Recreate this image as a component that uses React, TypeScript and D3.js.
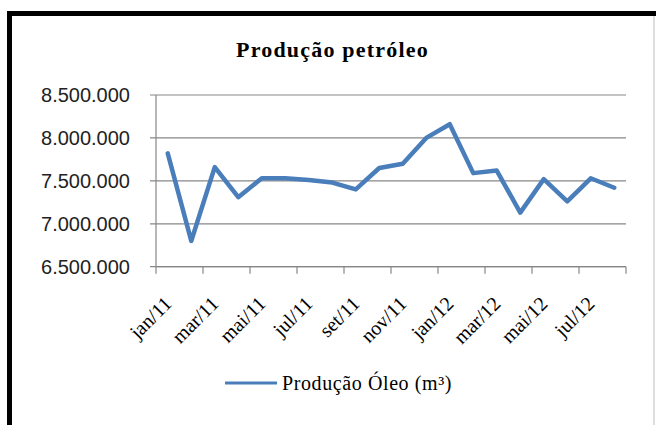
import React from "react";
import * as d3 from "d3";

const categories = [
  "jan/11", "fev/11", "mar/11", "abr/11", "mai/11", "jun/11", "jul/11", "ago/11",
  "set/11", "out/11", "nov/11", "dez/11", "jan/12", "fev/12", "mar/12", "abr/12",
  "mai/12", "jun/12", "jul/12", "ago/12",
];
const producao = [
  7820000, 6800000, 7660000, 7310000, 7530000, 7530000, 7510000, 7480000,
  7400000, 7650000, 7700000, 8000000, 8160000, 7590000, 7620000, 7130000,
  7520000, 7260000, 7530000, 7420000,
];
const yTicks = [6500000, 7000000, 7500000, 8000000, 8500000];
const title = "Produção petróleo";
const seriesName = "Produção Óleo (m³)";

const W = 656;
const H = 425;
const left = 156;
const right = 626;
const top = 95;
const bottom = 266.7;

export default function App() {
  const x = d3.scaleBand<string>().domain(categories).range([left, right]).padding(0);
  const y = d3.scaleLinear().domain([6500000, 8500000]).range([bottom, top]);
  const fmt = (v: number) => d3.format(",")(v).replace(/,/g, ".");
  const line = d3
    .line<number>()
    .x((_, i) => (x(categories[i]) as number) + x.bandwidth() / 2)
    .y((d) => y(d));
  const blue = "#4a7ebb";
  const grid = "#878787";
  const tickCats = categories.filter((_, i) => i % 2 === 0);
  const tickXs = d3.range(0, categories.length + 1, 2).map((i) => left + i * x.bandwidth());

  return (
    <svg
      width={W}
      height={H}
      style={{ position: "absolute", left: 0, top: 0, background: "#fff" }}
    >
      <rect x={0} y={0} width={W} height={H} fill="#fff" />
      {/* frame */}
      <line x1={9.5} x2={9.5} y1={11} y2={H} stroke="#000" strokeWidth={5} />
      <line x1={7} x2={W} y1={13.5} y2={13.5} stroke="#000" strokeWidth={5} />
      <line x1={654} x2={654} y1={16} y2={H} stroke="#d4d4d4" strokeWidth={1.5} />

      <text
        x={332.5}
        y={57}
        textAnchor="middle"
        fontFamily="Liberation Serif"
        fontWeight="bold"
        fontSize={22}
        letterSpacing={1.2}
        fill="#000"
      >
        {title}
      </text>

      {/* gridlines */}
      {yTicks.map((t) => (
        <g key={t}>
          <line x1={left - 6} x2={right} y1={y(t)} y2={y(t)} stroke={grid} strokeWidth={1.2} />
          <text
            x={130}
            y={y(t)}
            dy="0.35em"
            textAnchor="end"
            fontFamily="Liberation Sans"
            fontSize={20}
            fill="#222"
          >
            {fmt(t)}
          </text>
        </g>
      ))}
      {/* axes */}
      <line x1={left} x2={left} y1={top} y2={bottom} stroke={grid} strokeWidth={1.2} />
      <line x1={left} x2={right} y1={bottom} y2={bottom} stroke={grid} strokeWidth={1.2} />
      {tickXs.map((tx, i) => (
        <line key={i} x1={tx} x2={tx} y1={bottom} y2={bottom + 7} stroke={grid} strokeWidth={1.2} />
      ))}
      {tickCats.map((c) => {
        const cx = (x(c) as number) + x.bandwidth() / 2 + 5;
        const cy = 305;
        return (
          <text
            key={c}
            x={cx}
            y={cy}
            transform={`rotate(-45 ${cx} ${cy})`}
            textAnchor="end"
            fontFamily="Liberation Serif"
            fontSize={20}
            fill="#000"
          >
            {c}
          </text>
        );
      })}

      <path
        d={line(producao) || ""}
        fill="none"
        stroke={blue}
        strokeWidth={4.5}
        strokeLinejoin="round"
        strokeLinecap="round"
      />

      {/* legend */}
      <line x1={225} x2={277} y1={383} y2={383} stroke={blue} strokeWidth={3} />
      <text
        x={282}
        y={390}
        fontFamily="Liberation Serif"
        fontSize={20}
        letterSpacing={0.6}
        fill="#000"
      >
        {seriesName}
      </text>
    </svg>
  );
}
